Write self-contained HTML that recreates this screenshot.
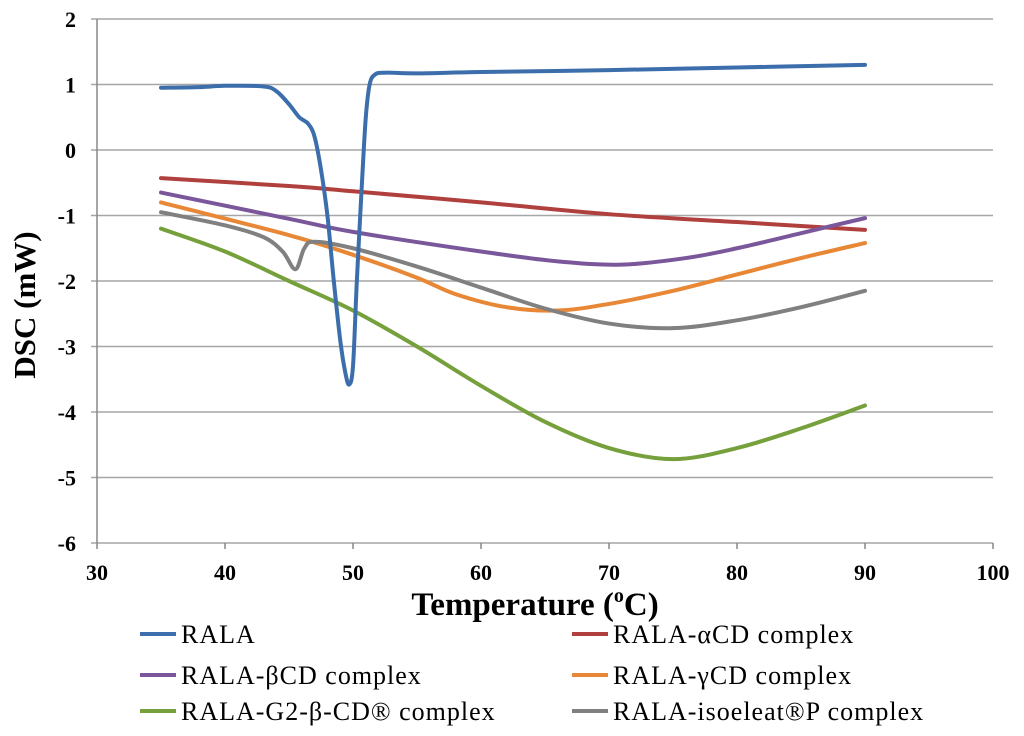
<!DOCTYPE html>
<html><head><meta charset="utf-8"><style>
body{margin:0;background:#fff}
svg{display:block;font-family:"Liberation Serif",serif}
</style></head><body>
<svg id="chart" width="1024" height="736">
<g id="grid"></g><g id="axes"></g><g id="series"></g><g id="legend"></g>
</svg>
<script>
const xTicks=[30,40,50,60,70,80,90,100];
const yTicks=[2,1,0,-1,-2,-3,-4,-5,-6];
const seriesNames=["RALA","RALA-αCD complex","RALA-βCD complex","RALA-γCD complex","RALA-G2-β-CD® complex","RALA-isoeleat®P complex"];
const ralaT=[35,38,40,43,44,45,45.8,46.5,47,47.5,48,48.5,49,49.4,49.7,50,50.3,50.7,51,51.3,51.7,52.5,55,60,70,80,90];
const ralaV=[0.95,0.96,0.98,0.97,0.9,0.7,0.5,0.4,0.2,-0.3,-1.0,-2.0,-2.9,-3.4,-3.58,-3.3,-2.0,-0.5,0.5,1.0,1.15,1.18,1.17,1.19,1.22,1.26,1.3];
const alphaT=[35,45,50,60,70,80,90];
const alphaV=[-0.43,-0.55,-0.63,-0.8,-0.98,-1.1,-1.22];
const betaT=[35,45,50,60,66,71,76,80,85,90];
const betaV=[-0.65,-1.05,-1.25,-1.55,-1.7,-1.75,-1.65,-1.5,-1.27,-1.04];
const gammaT=[35,45,50,55,58,62,66,70,75,80,85,90];
const gammaV=[-0.8,-1.3,-1.6,-1.95,-2.2,-2.4,-2.45,-2.35,-2.15,-1.9,-1.65,-1.42];
const g2T=[35,40,45,50,55,60,65,70,75,80,85,90];
const g2V=[-1.2,-1.55,-2.0,-2.45,-3.0,-3.6,-4.15,-4.55,-4.72,-4.55,-4.25,-3.9];
const isoT=[35,40,43,44.5,45.5,46.2,47,50,55,60,65,70,75,80,85,90];
const isoV=[-0.95,-1.15,-1.33,-1.55,-1.82,-1.5,-1.4,-1.5,-1.78,-2.1,-2.42,-2.65,-2.72,-2.6,-2.4,-2.15];
const colors=["#3c6eab","#b0403d","#7a579b","#e88735","#76a03c","#808080"];
const ns="http://www.w3.org/2000/svg";
const X=t=>97+(t-30)*(993-97)/70;
const Y=v=>150-v*(543-19)/8;
function mk(tag,attrs,parent,text){const e=document.createElementNS(ns,tag);for(const k in attrs)e.setAttribute(k,attrs[k]);if(text!==undefined)e.textContent=text;parent.appendChild(e);return e;}
const grid=document.getElementById('grid'),axes=document.getElementById('axes'),ser=document.getElementById('series'),leg=document.getElementById('legend');
yTicks.forEach(v=>{
 const l=mk('line',{x1:91,x2:993,y1:Y(v),y2:Y(v),stroke:'#a6a6a6','stroke-width':1.5},grid);
 
 
 const t=mk('text',{x:76,y:Y(v)+8,'text-anchor':'end','font-size':22,'font-weight':'bold'},axes,String(v));
 
 
});
mk('line',{x1:97,x2:97,y1:19,y2:543,stroke:'#888','stroke-width':1.5},axes);
xTicks.forEach(v=>{
 mk('line',{x1:X(v),x2:X(v),y1:543,y2:549,stroke:'#888','stroke-width':1.5},axes);
 const t=mk('text',{x:X(v),y:580,'text-anchor':'middle','font-size':22,'font-weight':'bold'},axes,String(v));
 
 
});
const yt=mk('text',{x:0,y:0,'text-anchor':'middle','font-size':31,'font-weight':'bold',transform:'translate(35,305) rotate(-90)'},axes,'DSC (mW)');


const xt=mk('text',{x:535,y:615,'text-anchor':'middle','font-size':33,'font-weight':'bold'},axes);


xt.innerHTML='Temperature (<tspan font-size="20" dy="-13">o</tspan><tspan dy="13">C)</tspan>';
const data=[[ralaT,ralaV],[alphaT,alphaV],[betaT,betaV],[gammaT,gammaV],[g2T,g2V],[isoT,isoV]];
function smooth(pts){let d='M'+pts[0][0]+','+pts[0][1];for(let i=0;i<pts.length-1;i++){const p0=pts[i-1]||pts[i],p1=pts[i],p2=pts[i+1],p3=pts[i+2]||p2;const c1=[p1[0]+(p2[0]-p0[0])/6,p1[1]+(p2[1]-p0[1])/6],c2=[p2[0]-(p3[0]-p1[0])/6,p2[1]-(p3[1]-p1[1])/6];d+=' C'+c1+' '+c2+' '+p2;}return d;}
const order=[1,2,3,5,4,0];
order.forEach(i=>{
 const [ts,vs]=data[i];
 const pts=ts.map((t,j)=>[X(t),Y(vs[j])]);
 const p=mk('path',{d:smooth(pts),fill:'none',stroke:colors[i],'stroke-width':4,'stroke-linejoin':'round','stroke-linecap':'round'},ser);
 
 
});
const lpos=[[140,634],[572,634],[140,675],[572,675],[140,711],[572,711]];
seriesNames.forEach((n,i)=>{
 const [x,y]=lpos[i];
 const g=mk('g',{},leg);
 
 
 mk('line',{x1:x,x2:x+36,y1:y,y2:y,stroke:colors[i],'stroke-width':4},g);
 mk('text',{x:x+41,y:y+9,'font-size':26,'letter-spacing':1},g,n);
});
</script>
</body></html>
